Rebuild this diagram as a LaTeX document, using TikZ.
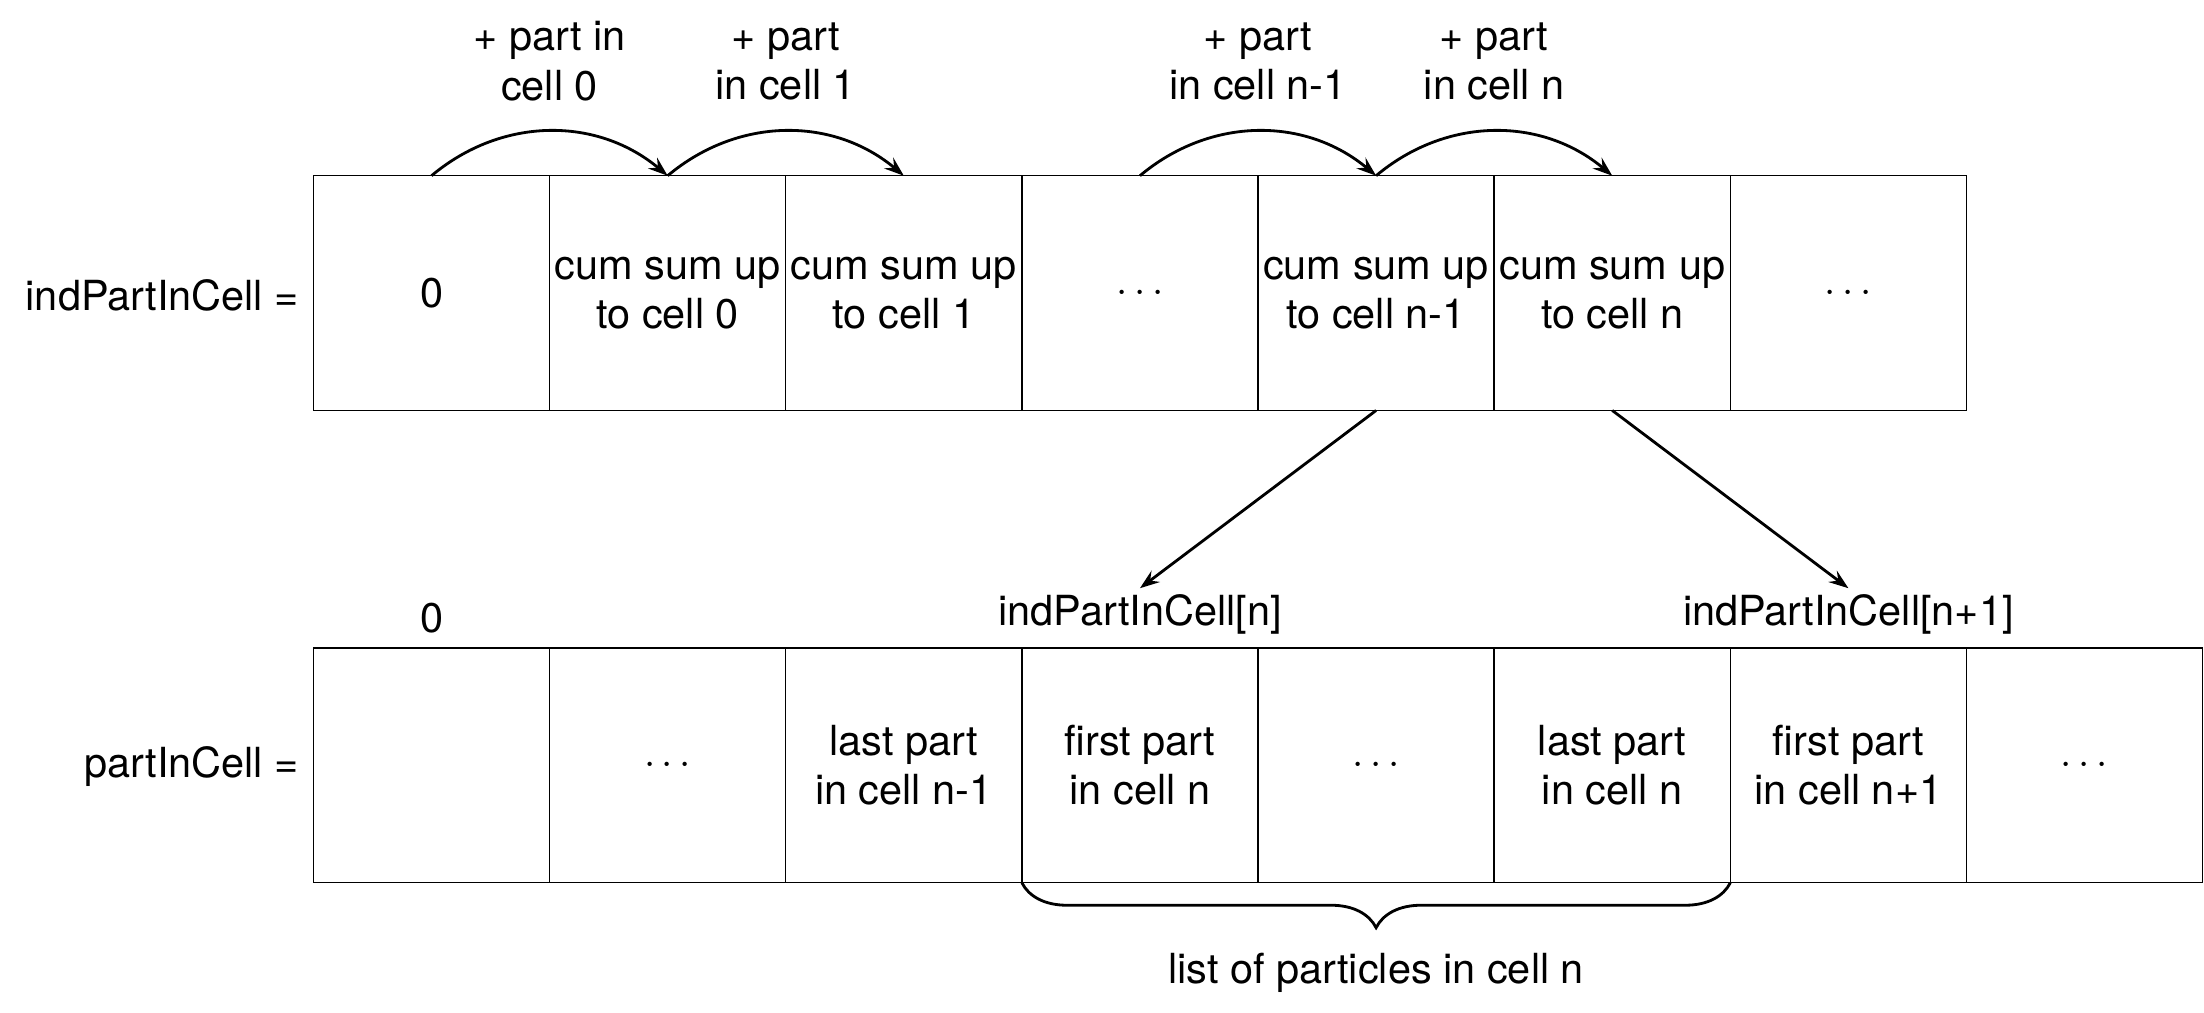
\documentclass[tikz,border=0pt]{standalone}
\usepackage{fontspec}
\setmainfont{TeX Gyre Heros}
\usetikzlibrary{arrows.meta,decorations.pathreplacing,calc}
\begin{document}
\begin{tikzpicture}[x=0.5pt,y=0.5pt,
  every node/.style={font=\fontsize{14.75}{17.5}\selectfont},
  cell/.style={draw,line width=0.5pt,minimum width=84pt,minimum height=83.5pt,inner sep=0pt,outer sep=0pt,align=center},
  arc/.style={line width=1pt,-{Stealth[length=7pt,width=5pt,inset=2.5pt]}},
  lbl/.style={align=center,inner sep=0pt}]
\useasboundingbox (0,0) rectangle (1568,-720);
% top row
\node[cell] (t1) at (307,-208.5) {0};
\node[cell] (t2) at (475,-208.5) {cum sum up\\to cell 0};
\node[cell] (t3) at (643,-208.5) {cum sum up\\to cell 1};
\node[cell] (t4) at (811,-208.5) {$\cdots$};
\node[cell] (t5) at (979,-208.5) {cum sum up\\to cell n-1};
\node[cell] (t6) at (1147,-208.5) {cum sum up\\to cell n};
\node[cell] (t7) at (1315,-208.5) {$\cdots$};
% bottom row
\node[cell] (b1) at (307,-544.5) {};
\node[cell] (b2) at (475,-544.5) {$\cdots$};
\node[cell] (b3) at (643,-544.5) {last part\\in cell n-1};
\node[cell] (b4) at (811,-544.5) {first part\\in cell n};
\node[cell] (b5) at (979,-544.5) {$\cdots$};
\node[cell] (b6) at (1147,-544.5) {last part\\in cell n};
\node[cell] (b7) at (1315,-544.5) {first part\\in cell n+1};
\node[cell] (b8) at (1483,-544.5) {$\cdots$};
% left labels
\node[anchor=east,inner sep=0pt] (lt) at (213,-210) {indPartInCell =};
\node[anchor=east,inner sep=0pt] (lb) at (213,-545) {partInCell =};
% arcs
\draw[arc] (t1.north) to[out=40,in=140] (t2.north);
\draw[arc] (t2.north) to[out=40,in=140] (t3.north);
\draw[arc] (t4.north) to[out=40,in=140] (t5.north);
\draw[arc] (t5.north) to[out=40,in=140] (t6.north);
\node[lbl] (a1) at (391,-43.5) {+ part in\\cell 0};
\node[lbl] (a2) at (559,-43.5) {+ part\\in cell 1};
\node[lbl] (a3) at (895,-43.5) {+ part\\in cell n-1};
\node[lbl] (a4) at (1063,-43.5) {+ part\\in cell n};
% index labels
\node[inner sep=2pt] (in) at (811,-437) {indPartInCell[n]};
\node[inner sep=2pt] (in1) at (1315,-437) {indPartInCell[n+1]};
\node[inner sep=2pt] (z) at (307,-440) {0};
\draw[arc] (t5.south) -- (in.north);
\draw[arc] (t6.south) -- (in1.north);
% brace
\draw[line width=1pt,decorate,decoration={brace,mirror,amplitude=16pt}] (b4.south west) -- (b7.south west);
\node[inner sep=0pt] (br) at (979,-692) {list of particles in cell n};
\end{tikzpicture}
\end{document}
